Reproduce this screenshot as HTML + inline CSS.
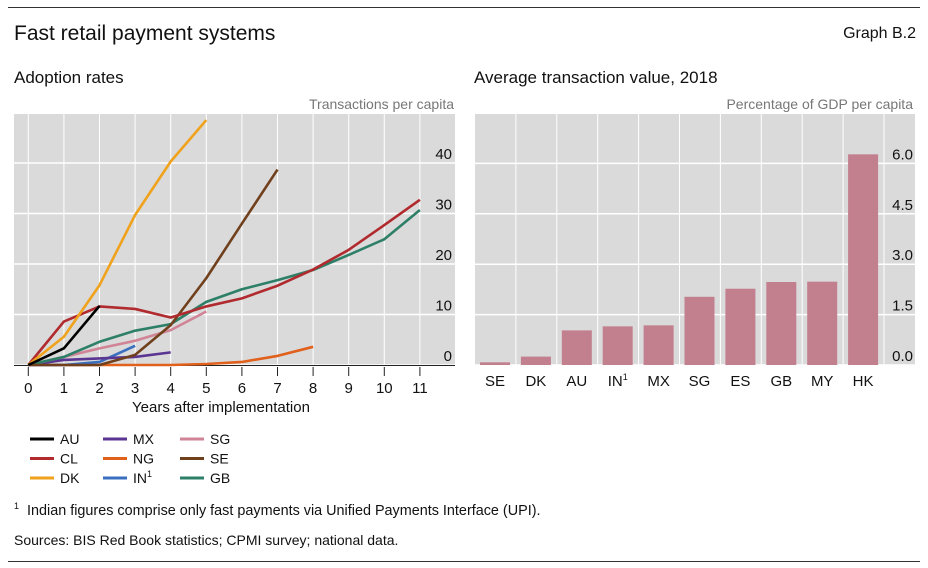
<!DOCTYPE html>
<html><head><meta charset="utf-8">
<style>
body{margin:0;width:928px;height:568px;background:#fff;font-family:"Liberation Sans",sans-serif;color:#111;position:relative;overflow:hidden}
.t{position:absolute;white-space:nowrap}
</style></head><body>
<div class="t" style="left:8px;top:7px;width:912px;height:1px;background:#333"></div>
<div class="t" style="left:14px;top:22px;font-size:21px">Fast retail payment systems</div>
<div class="t" style="right:12px;top:25px;font-size:16px">Graph B.2</div>
<div class="t" style="left:14px;top:68px;font-size:17px">Adoption rates</div>
<div class="t" style="left:474px;top:68px;font-size:17px">Average transaction value, 2018</div>
<svg id="s" width="928" height="568" style="position:absolute;left:0;top:0"></svg>
<div class="t" style="left:14px;top:501px;font-size:14.4px"><sup style="font-size:9px">1</sup>&nbsp; Indian figures comprise only fast payments via Unified Payments Interface (UPI).</div>
<div class="t" style="left:14px;top:532px;font-size:14px">Sources: BIS Red Book statistics; CPMI survey; national data.</div>
<div class="t" style="left:8px;top:561px;width:912px;height:1px;background:#333"></div>
<script>
const years=[0,1,2,3,4,5,6,7,8,9,10,11];
const seriesNames=["AU","CL","DK","MX","NG","IN","SG","SE","GB"];
const seriesColors=["#000000","#b02a2e","#f0a21c","#5b3592","#e0601c","#3a6fc0","#d08496","#70401c","#2e7f67"];
const AU=[0,3.3,11.7];
const CL=[0,8.6,11.6,11.1,9.4,11.6,13.2,15.7,18.9,22.8,27.7,32.7];
const DK=[0,5.6,15.8,29.7,40.3,48.5];
const MX=[0,1,1.3,1.6,2.5];
const NG=[0,0,0,0,0,0.2,0.6,1.8,3.6];
const IN=[0,0,0.6,3.8];
const SG=[0,1.6,3.3,4.8,6.9,10.6];
const SE=[0,0,0,2,7.9,17.2,28,38.7];
const GB=[0,1.6,4.6,6.8,8.1,12.5,15,16.8,18.8,21.8,24.9,30.7];
const leftTicks=[0,10,20,30,40];
const barCats=["SE","DK","AU","IN","MX","SG","ES","GB","MY","HK"];
const barVals=[0.08,0.25,1.03,1.15,1.18,2.03,2.27,2.47,2.48,6.27];
const rightTicks=[0,1.5,3.0,4.5,6.0];

const NS="http://www.w3.org/2000/svg",s=document.getElementById('s');
function el(t,a,p){const e=document.createElementNS(NS,t);for(const k in a)e.setAttribute(k,a[k]);(p||s).appendChild(e);return e;}
// left chart
const lx=v=>28.3+v*35.6, ly=v=>365-v*5.05;
let bg=el('rect',{x:14,y:114,width:441,height:251,fill:'#dadada'});


years.forEach(v=>{let g=el('line',{x1:lx(v),x2:lx(v),y1:114,y2:365,stroke:'#fff','stroke-width':1});

let tk=el('line',{x1:lx(v),x2:lx(v),y1:367,y2:376,stroke:'#222'});

let t=el('text',{x:lx(v),y:393,'text-anchor':'middle','font-size':15,fill:'#111'});t.textContent=v;
});
leftTicks.forEach(v=>{let g=el('line',{x1:14,x2:455,y1:ly(v),y2:ly(v),stroke:'#fff','stroke-width':1.5});

let t=el('text',{x:452,y:ly(v)-4,'text-anchor':'end','font-size':15,fill:'#111'});t.textContent=v;
});
el('line',{x1:14,x2:455,y1:365.5,y2:365.5,stroke:'#222','stroke-width':1});
let u=el('text',{x:454,y:109,'text-anchor':'end','font-size':14,fill:'#777'});u.textContent='Transactions per capita';

let xt=el('text',{x:221,y:412,'text-anchor':'middle','font-size':15,fill:'#111'});xt.textContent='Years after implementation';

const data={AU,CL,DK,MX,NG,IN,SG,SE,GB};
const order=["NG","IN","MX","SG","GB","SE","CL","DK","AU"];
order.forEach(n=>{const i=seriesNames.indexOf(n);const d=data[n];
let p=el('polyline',{points:d.map((v,j)=>lx(years[j])+','+ly(v)).join(' '),fill:'none',stroke:seriesColors[i],'stroke-width':2.6,'stroke-linejoin':'round'});
});
// legend
seriesNames.forEach((n,i)=>{const c=Math.floor(i/3),r=i%3;const x=[30,103,180][c],y=439+r*19.5;
const g=el('g',{});


el('line',{x1:x,x2:x+24,y1:y,y2:y,stroke:seriesColors[i],'stroke-width':3},g);
let t=el('text',{x:x+30,y:y+5,'font-size':14,fill:'#111'},g);t.textContent=n;
if(n==='IN'){let sp=el('tspan',{dy:-6,'font-size':9},t);sp.textContent='1';}
});
// right chart
const bx=i=>475+i*40.9, by=v=>365-v*33.6;
let bg2=el('rect',{x:475,y:114,width:440,height:251,fill:'#dadada'});


barCats.forEach((c,i)=>{let g=el('line',{x1:bx(i+1),x2:bx(i+1),y1:114,y2:365,stroke:'#fff','stroke-width':1});
});
rightTicks.forEach(v=>{let g=el('line',{x1:475,x2:915,y1:by(v),y2:by(v),stroke:'#fff','stroke-width':1.5});

let t=el('text',{x:913,y:by(v)-4,'text-anchor':'end','font-size':15,fill:'#111'});t.textContent=v.toFixed(1);
});
barCats.forEach((c,i)=>{let r=el('rect',{x:bx(i)+5,y:by(barVals[i]),width:30,height:barVals[i]*33.6,fill:'#c27f8e'});

let t=el('text',{x:bx(i)+20,y:386,'text-anchor':'middle','font-size':15,fill:'#111'});t.textContent=c;
if(c==='IN'){let sp=el('tspan',{dy:-6,'font-size':9},t);sp.textContent='1';}
});
let u2=el('text',{x:913,y:109,'text-anchor':'end','font-size':14,fill:'#777'});u2.textContent='Percentage of GDP per capita';

</script>
</body></html>
